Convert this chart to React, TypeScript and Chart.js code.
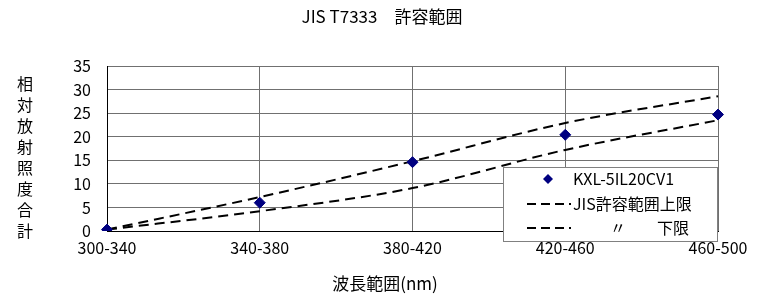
import React, { useEffect, useRef } from "react";
import { Chart, registerables } from "chart.js";

Chart.register(...registerables);

const categories = ["300-340", "340-380", "380-420", "420-460", "460-500"];
const measured = [0.3, 6.0, 14.6, 20.4, 24.7];
const upperLimit = [0.3, 7.2, 14.8, 22.9, 28.6];
const lowerLimit = [0.3, 4.2, 9.1, 17.2, 23.5];
const yTicks = [0, 5, 10, 15, 20, 25, 30, 35];

const chartTitle = "JIS T7333　許容範囲";
const yTitle = "相対放射照度合計";
const xTitle = "波長範囲(nm)";
const legendLabels = ["KXL-5IL20CV1", "JIS許容範囲上限", "〃", "下限"];

const FONT = "'Noto Sans CJK JP', 'Noto Sans', sans-serif";

const decorPlugin = {
  id: "decor",
  afterDraw(chart: any) {
    const ctx = chart.ctx;
    ctx.save();
    ctx.fillStyle = "#000";
    ctx.textBaseline = "middle";
    // title
    ctx.font = `17px ${FONT}`;
    ctx.textAlign = "center";
    ctx.fillText(chartTitle, 382, 17);
    // x title
    ctx.font = `17px ${FONT}`;
    ctx.fillText(xTitle, 385, 284);
    // y title stacked
    ctx.font = `16px ${FONT}`;
    const chars = Array.from(yTitle);
    chars.forEach((c, i) => ctx.fillText(c, 25, 84 + i * 21));

    // legend box
    const bx = 503, by = 167, bw = 214, bh = 74;
    ctx.fillStyle = "#fff";
    ctx.fillRect(bx, by, bw, bh);
    ctx.strokeStyle = "#808080";
    ctx.lineWidth = 1;
    ctx.strokeRect(bx + 0.5, by + 0.5, bw, bh);
    // entry 1 diamond
    ctx.fillStyle = "#000080";
    const dx = 548, dy = 179, r = 5;
    ctx.beginPath();
    ctx.moveTo(dx, dy - r);
    ctx.lineTo(dx + r, dy);
    ctx.lineTo(dx, dy + r);
    ctx.lineTo(dx - r, dy);
    ctx.closePath();
    ctx.fill();
    // dashed samples
    ctx.strokeStyle = "#000";
    ctx.lineWidth = 2;
    ctx.setLineDash([9, 5]);
    ctx.beginPath();
    ctx.moveTo(527, 204);
    ctx.lineTo(571, 204);
    ctx.moveTo(527, 228);
    ctx.lineTo(571, 228);
    ctx.stroke();
    ctx.setLineDash([]);
    ctx.fillStyle = "#000";
    ctx.textAlign = "left";
    ctx.font = `16px ${FONT}`;
    ctx.fillText(legendLabels[0], 573, 179);
    ctx.fillText(legendLabels[1], 573, 204);
    ctx.fillText(legendLabels[2], 610, 228);
    ctx.fillText(legendLabels[3], 657, 228);
    ctx.restore();
  },
};

export default function App() {
  const ref = useRef<HTMLCanvasElement>(null);
  useEffect(() => {
    document.body.style.margin = "0";
    const chart = new Chart(ref.current!, {
      type: "line",
      data: {
        labels: categories,
        datasets: [
          {
            label: legendLabels[0],
            data: measured,
            showLine: false,
            pointStyle: "rectRot",
            pointRadius: 5.5,
            pointBackgroundColor: "#000080",
            pointBorderColor: "#000080",
            borderColor: "#000080",
            order: 0,
          },
          {
            label: legendLabels[1],
            data: upperLimit,
            borderColor: "#000",
            borderWidth: 2,
            borderDash: [10, 6],
            pointRadius: 0,
            tension: 0.4,
            cubicInterpolationMode: "monotone",
            fill: false,
            order: 1,
          },
          {
            label: legendLabels[3],
            data: lowerLimit,
            borderColor: "#000",
            borderWidth: 2,
            borderDash: [10, 6],
            pointRadius: 0,
            tension: 0.4,
            cubicInterpolationMode: "monotone",
            fill: false,
            order: 2,
          },
        ],
      },
      options: {
        animation: false,
        responsive: false,
        layout: { padding: { left: 0, top: 66, right: 50, bottom: 0 } },
        plugins: {
          legend: { display: false },
          title: { display: false },
          tooltip: { enabled: false },
        },
        scales: {
          x: {
            offset: false,
            grid: { color: "#707070", lineWidth: 1, drawTicks: false },
            border: { color: "#000", width: 1 },
            ticks: {
              color: "#000",
              font: { size: 16, family: FONT },
              padding: 7,
              maxRotation: 0,
              autoSkip: false,
            },
            afterFit(scale: any) {
              scale.height = 69;
            },
          },
          y: {
            min: 0,
            max: 35,
            afterBuildTicks(scale: any) {
              scale.ticks = yTicks.map((v) => ({ value: v }));
            },
            grid: { color: "#707070", lineWidth: 1, drawTicks: false },
            border: { color: "#000", width: 1 },
            ticks: {
              color: "#000",
              font: { size: 16, family: FONT },
              padding: 16,
            },
            afterFit(scale: any) {
              scale.width = 107;
            },
          },
        },
      },
      plugins: [decorPlugin],
    } as any);
    return () => chart.destroy();
  }, []);
  return (
    <div style={{ position: "absolute", left: 0, top: 0, width: 768, height: 300, background: "#fff" }}>
      <canvas ref={ref} width={768} height={300} style={{ display: "block" }} />
    </div>
  );
}
